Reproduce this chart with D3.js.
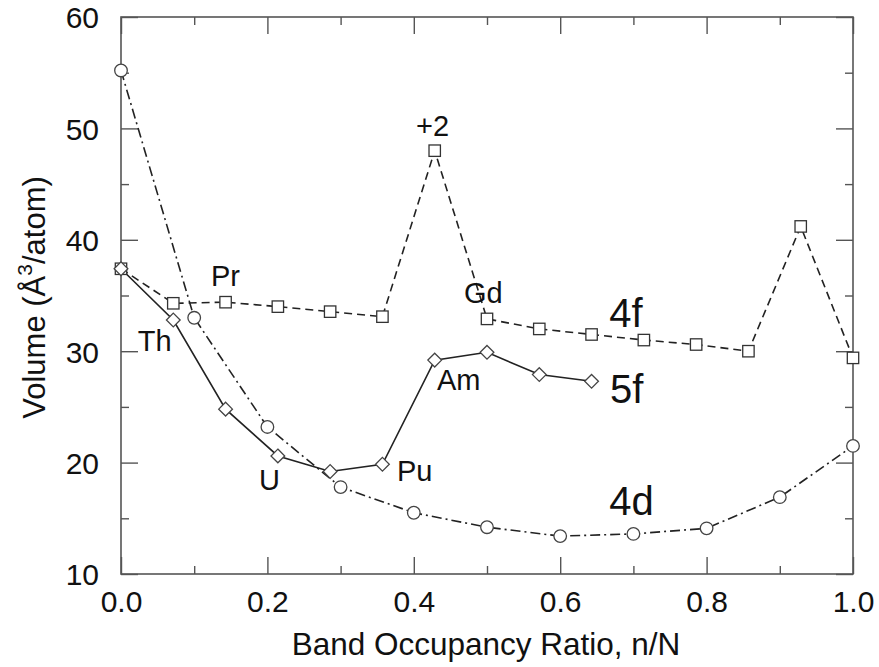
<!DOCTYPE html>
<html>
<head>
<meta charset="utf-8">
<script src="https://cdn.jsdelivr.net/npm/d3@7"></script>
<style>
  html, body { margin: 0; padding: 0; background: #fff; }
  svg { display: block; font-family: "Liberation Sans", Arial, sans-serif; }
</style>
</head>
<body>
<svg id="chart" width="879" height="667"></svg>
<script>
// Band occupancy ratio (n/N) and atomic volume (Å^3/atom)
const occ4d = [0.0, 0.1, 0.2, 0.3, 0.4, 0.5, 0.6, 0.7, 0.8, 0.9, 1.0];
const vol4d = [55.2, 33.0, 23.2, 17.8, 15.5, 14.2, 13.4, 13.6, 14.1, 16.9, 21.5];

const occ4f = [0/14, 1/14, 2/14, 3/14, 4/14, 5/14, 6/14, 7/14, 8/14, 9/14, 10/14, 11/14, 12/14, 13/14, 14/14];
const vol4f = [37.4, 34.3, 34.4, 34.0, 33.55, 33.1, 48.0, 32.9, 32.0, 31.5, 31.0, 30.6, 30.0, 41.2, 29.4];

const occ5f = [0/14, 1/14, 2/14, 3/14, 4/14, 5/14, 6/14, 7/14, 8/14, 9/14];
const vol5f = [37.4, 32.8, 24.8, 20.6, 19.2, 19.85, 29.2, 29.9, 27.9, 27.3];

const xTicks = [0.0, 0.2, 0.4, 0.6, 0.8, 1.0];
const xMinor = [0.1, 0.3, 0.5, 0.7, 0.9];
const yTicks = [10, 20, 30, 40, 50, 60];
const yMinor = [15, 25, 35, 45, 55];

// element labels placed in data coordinates
const labelText = ["Th", "Pr", "U", "Pu", "Am", "Gd", "+2", "4f", "5f", "4d"];
const labelX    = [0.023, 0.123, 0.1885, 0.377, 0.4317, 0.4686, 0.403, 0.667, 0.668, 0.667];
const labelY    = [30.0, 35.85, 17.54, 18.35, 26.5, 34.3, 49.3, 32.2, 25.35, 15.3];
const labelBig  = [false, false, false, false, false, false, false, true, true, true];

const svg = d3.select("#chart");
const plotL = 121, plotR = 853, plotT = 17, plotB = 574;

const x = d3.scaleLinear().domain([0, 1]).range([plotL, plotR]);
const y = d3.scaleLinear().domain([10, 60]).range([plotB, plotT]);

const axisColor = "#555";
const lineColor = "#222";

// frame
svg.append("rect")
  .attr("x", plotL).attr("y", plotT)
  .attr("width", plotR - plotL).attr("height", plotB - plotT)
  .attr("fill", "none").attr("stroke", axisColor).attr("stroke-width", 1.6);

// inward ticks on all four sides
function addAxis(axisFn, scale, ticks, len, tx, ty) {
  const g = svg.append("g").attr("transform", `translate(${tx},${ty})`)
    .call(axisFn(scale).tickValues(ticks).tickSize(len).tickFormat(""));
  g.select(".domain").remove();
  g.selectAll(".tick line").attr("stroke", axisColor).attr("stroke-width", 1.4);
  return g;
}
addAxis(d3.axisTop, x, xTicks, 17, 0, plotB);
addAxis(d3.axisTop, x, xMinor, 8, 0, plotB);
addAxis(d3.axisBottom, x, xTicks, 17, 0, plotT);
addAxis(d3.axisBottom, x, xMinor, 8, 0, plotT);
addAxis(d3.axisRight, y, yTicks, 17, plotL, 0);
addAxis(d3.axisRight, y, yMinor, 8, plotL, 0);
addAxis(d3.axisLeft, y, yTicks, 17, plotR, 0);
addAxis(d3.axisLeft, y, yMinor, 8, plotR, 0);

// tick labels
const xLab = svg.append("g").attr("transform", `translate(0,${plotB})`)
  .call(d3.axisBottom(x).tickValues(xTicks).tickSize(0).tickPadding(0).tickFormat(d3.format(".1f")));
xLab.select(".domain").remove();
xLab.selectAll("text").attr("font-size", 30).attr("fill", "#111")
  .attr("font-family", "Liberation Sans, Arial, sans-serif")
  .attr("dy", null).attr("y", 38);

const yLab = svg.append("g").attr("transform", `translate(${plotL},0)`)
  .call(d3.axisLeft(y).tickValues(yTicks).tickSize(0).tickPadding(0).tickFormat(d3.format("d")));
yLab.select(".domain").remove();
yLab.selectAll("text").attr("font-size", 30).attr("fill", "#111")
  .attr("font-family", "Liberation Sans, Arial, sans-serif")
  .attr("x", -22).attr("dy", "0.36em");

// axis titles
svg.append("text")
  .attr("x", (plotL + plotR) / 2 - 1).attr("y", 655)
  .attr("text-anchor", "middle").attr("font-size", 31.5).attr("fill", "#111")
  .text("Band Occupancy Ratio, n/N");

const yt = svg.append("text")
  .attr("transform", `translate(45,${(plotT + plotB) / 2 + 2}) rotate(-90)`)
  .attr("text-anchor", "middle").attr("font-size", 31).attr("fill", "#111");
yt.append("tspan").text("Volume (Å");
yt.append("tspan").attr("font-size", 21).attr("dy", -13).text("3");
yt.append("tspan").attr("dy", 13).text("/atom)");

// series lines
const pts = (xs, ys) => xs.map((v, i) => [v, ys[i]]);
const line = d3.line().x(d => x(d[0])).y(d => y(d[1]));

svg.append("path").datum(pts(occ4d, vol4d)).attr("d", line)
  .attr("fill", "none").attr("stroke", lineColor).attr("stroke-width", 1.6)
  .attr("stroke-dasharray", "10,4,2,4");

svg.append("path").datum(pts(occ4f, vol4f)).attr("d", line)
  .attr("fill", "none").attr("stroke", lineColor).attr("stroke-width", 1.6)
  .attr("stroke-dasharray", "8,5");

svg.append("path").datum(pts(occ5f, vol5f)).attr("d", line)
  .attr("fill", "none").attr("stroke", lineColor).attr("stroke-width", 1.6);

// markers
svg.append("g").selectAll("circle").data(pts(occ4d, vol4d)).join("circle")
  .attr("cx", d => x(d[0])).attr("cy", d => y(d[1])).attr("r", 6.3)
  .attr("fill", "#fff").attr("stroke", "#444").attr("stroke-width", 1.3);

svg.append("g").selectAll("rect").data(pts(occ4f, vol4f)).join("rect")
  .attr("x", d => x(d[0]) - 5.7).attr("y", d => y(d[1]) - 5.7)
  .attr("width", 11.4).attr("height", 11.4)
  .attr("fill", "#fff").attr("stroke", "#333").attr("stroke-width", 1.3);

const diamond = d3.symbol().type(d3.symbolDiamond2).size(120);
svg.append("g").selectAll("path").data(pts(occ5f, vol5f)).join("path")
  .attr("transform", d => `translate(${x(d[0])},${y(d[1])})`)
  .attr("d", diamond)
  .attr("fill", "#fff").attr("stroke", "#444").attr("stroke-width", 1.3);

// element / shell labels
svg.append("g").selectAll("text").data(labelText).join("text")
  .attr("x", (d, i) => x(labelX[i])).attr("y", (d, i) => y(labelY[i]))
  .attr("font-size", (d, i) => labelBig[i] ? 40 : 29)
  .attr("fill", "#111")
  .text(d => d);
</script>
</body>
</html>
